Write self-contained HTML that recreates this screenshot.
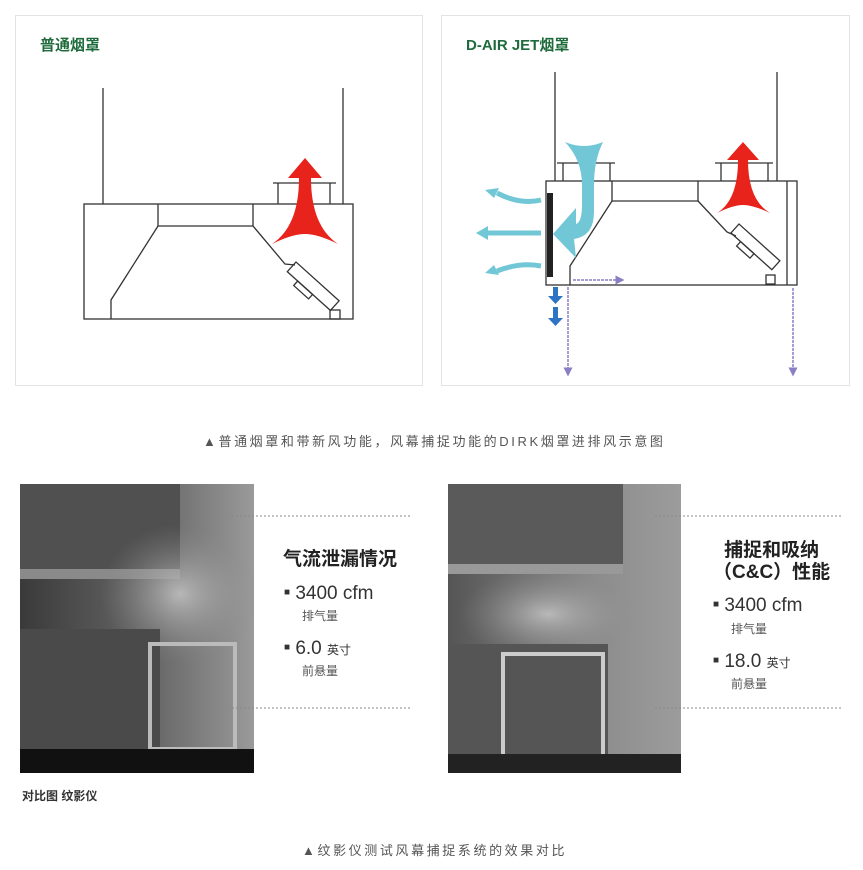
<!DOCTYPE html>
<html><head><meta charset="utf-8"><style>
body{margin:0;background:#fff;width:863px;height:870px;position:relative;overflow:hidden;font-family:"Liberation Sans","Noto Sans CJK SC",sans-serif}
.a{position:absolute}
.panel{position:absolute;border:1px solid #e3e3e3;background:#fff}
.t{color:#1f6b3c;font-weight:bold;font-size:15px}
.cap{color:#555;font-size:13px;letter-spacing:2.6px}
</style></head><body>
<div class="panel" style="left:15px;top:15px;width:406px;height:369px"></div>
<div class="panel" style="left:441px;top:15px;width:407px;height:369px"></div>
<div class="a t" style="left:40px;top:34px">普通烟罩</div>
<div class="a t" style="left:466px;top:34px">D-AIR JET烟罩</div>
<svg class="a" style="left:0;top:0" width="863" height="400">
<defs>
<marker id="pa" markerWidth="6" markerHeight="6" refX="3" refY="3" orient="auto"><path d="M0,0L6,3L0,6z" fill="#8a7fc4"/></marker>
</defs>
<g fill="none" stroke="#333" stroke-width="1.3">
<line x1="103" y1="88" x2="103" y2="204"/><line x1="343" y1="88" x2="343" y2="204"/>
<rect x="84" y="204" width="269" height="115"/>
<polyline points="158,204 158,226 253,226 253,204"/>
<polyline points="158,226 111,300 111,319"/>
<polyline points="253,226 285,264 295,265"/>
<polyline points="273,183 336,183"/><line x1="278" y1="183" x2="278" y2="204"/><line x1="330" y1="183" x2="330" y2="204"/>
<g transform="translate(296,262) rotate(42)"><rect x="0" y="0" width="58" height="13"/><rect x="14" y="13" width="20" height="6"/></g>
<rect x="330" y="310" width="10" height="9"/>
<line x1="555" y1="72" x2="555" y2="181"/><line x1="777" y1="72" x2="777" y2="181"/>
<rect x="546" y="181" width="251" height="104"/>
<line x1="787" y1="181" x2="787" y2="285"/>
<polyline points="612,181 612,201 698,201 698,181"/>
<polyline points="612,201 570,266 570,285"/>
<polyline points="698,201 727,232 736,236"/>
<line x1="557" y1="163" x2="615" y2="163"/><line x1="563" y1="163" x2="563" y2="181"/><line x1="610" y1="163" x2="610" y2="181"/>
<line x1="715" y1="163" x2="773" y2="163"/><line x1="721" y1="163" x2="721" y2="181"/><line x1="768" y1="163" x2="768" y2="181"/>
<g transform="translate(739,224) rotate(42)"><rect x="0" y="0" width="55" height="12"/><rect x="13" y="12" width="18" height="6"/></g>
<rect x="766" y="275" width="9" height="9"/>
</g>
<rect x="547" y="193" width="6" height="84" fill="#222"/>
<path d="M305,158 L322,178 L311,178 Q311,226 338,244 Q318,234 305,234 Q292,234 272,244 Q299,226 299,178 L288,178Z" fill="#e8231b"/>
<path d="M743,142 L759,160 L748,160 Q748,200 770,213 Q753,205 743,205 Q733,205 717,213 Q738,200 738,160 L727,160Z" fill="#e8231b"/>
<path d="M565,142 Q584,150 603,142 Q594,160 594,185 L594,212 Q594,236 574,239 L576,258 L553,234 L576,208 L576,224 Q582,222 582,205 L582,185 Q582,160 565,142Z" fill="#72c7d6"/>
<g fill="none" stroke="#72c7d6" stroke-width="5">
<path d="M541,200 Q520,205 497,193"/><path d="M541,233 L485,233"/><path d="M541,266 Q520,262 497,271"/>
</g>
<g fill="#72c7d6"><path d="M485,190l14,-2l-5,10z"/><path d="M476,233l12,-7v14z"/><path d="M485,273l14,2l-5,-10z"/></g>
<g fill="#2d74c4"><rect x="553" y="287" width="5" height="10"/><path d="M548,296h15l-7.5,8z"/><rect x="553" y="307" width="5" height="12"/><path d="M548,318h15l-7.5,8z"/></g>
<g fill="none" stroke="#8a7fc4" stroke-width="1.5">
<path d="M568,287 V372" stroke-dasharray="3,1" marker-end="url(#pa)"/>
<path d="M793,288 V372" stroke-dasharray="3,1" marker-end="url(#pa)"/>
<path d="M573,280 H620" stroke-dasharray="3,1" marker-end="url(#pa)"/>
</g>
</svg>
<div class="a cap" style="left:203px;top:431px">▲普通烟罩和带新风功能，风幕捕捉功能的DIRK烟罩进排风示意图</div>
<svg class="a" style="left:20px;top:484px" width="234" height="289">
<defs><linearGradient id="g1" x1="0" y1="0" x2="1" y2="0"><stop offset="0" stop-color="#3a3a3a"/><stop offset=".6" stop-color="#6a6a6a"/><stop offset="1" stop-color="#9a9a9a"/></linearGradient>
<radialGradient id="sm" cx=".5" cy=".5" r=".5"><stop offset="0" stop-color="#c8c8c8" stop-opacity=".8"/><stop offset="1" stop-color="#888" stop-opacity="0"/></radialGradient></defs>
<rect width="234" height="289" fill="url(#g1)"/>
<rect x="0" y="0" width="160" height="85" fill="#505050"/><rect x="0" y="85" width="160" height="10" fill="#8a8a8a"/>
<ellipse cx="160" cy="110" rx="80" ry="70" fill="url(#sm)"/>
<rect x="0" y="145" width="140" height="140" fill="#4a4a4a"/>
<rect x="130" y="160" width="85" height="105" fill="none" stroke="#bbb" stroke-width="4"/>
<rect x="0" y="265" width="234" height="24" fill="#111"/>
</svg>
<svg class="a" style="left:448px;top:484px" width="233" height="289">
<defs><linearGradient id="g2" x1="0" y1="0" x2="1" y2="0"><stop offset="0" stop-color="#555"/><stop offset=".6" stop-color="#8a8a8a"/><stop offset="1" stop-color="#9c9c9c"/></linearGradient></defs>
<rect width="233" height="289" fill="url(#g2)"/>
<rect x="0" y="0" width="175" height="80" fill="#5a5a5a"/><rect x="0" y="80" width="175" height="10" fill="#999"/>
<ellipse cx="100" cy="130" rx="90" ry="45" fill="url(#sm)"/>
<rect x="0" y="160" width="160" height="110" fill="#555"/>
<rect x="55" y="170" width="100" height="115" fill="none" stroke="#ccc" stroke-width="4"/>
<rect x="0" y="270" width="233" height="19" fill="#222"/>
</svg>
<svg class="a" style="left:0;top:0" width="863" height="870"><g stroke="#888" stroke-dasharray="2,2"><line x1="228" y1="516" x2="410" y2="516"/><line x1="228" y1="708" x2="410" y2="708"/><line x1="655" y1="516" x2="843" y2="516"/><line x1="655" y1="708" x2="843" y2="708"/></g></svg>
<div class="a" style="left:283px;top:544px;font-size:19px;font-weight:bold;color:#222">气流泄漏情况</div>
<div class="a" style="left:284px;top:583px;font-size:19px;color:#333"><span style="font-size:10px;vertical-align:4px">■</span> 3400 cfm</div>
<div class="a" style="left:302px;top:607px;font-size:12px;color:#555">排气量</div>
<div class="a" style="left:284px;top:638px;font-size:19px;color:#333"><span style="font-size:10px;vertical-align:4px">■</span> 6.0 <span style="font-size:12px">英寸</span></div>
<div class="a" style="left:302px;top:662px;font-size:12px;color:#555">前悬量</div>
<div class="a" style="left:713px;top:540px;font-size:19px;font-weight:bold;color:#222;text-align:center;line-height:22px">捕捉和吸纳<br>（C&amp;C）性能</div>
<div class="a" style="left:713px;top:595px;font-size:19px;color:#333"><span style="font-size:10px;vertical-align:4px">■</span> 3400 cfm</div>
<div class="a" style="left:731px;top:620px;font-size:12px;color:#555">排气量</div>
<div class="a" style="left:713px;top:651px;font-size:19px;color:#333"><span style="font-size:10px;vertical-align:4px">■</span> 18.0 <span style="font-size:12px">英寸</span></div>
<div class="a" style="left:731px;top:675px;font-size:12px;color:#555">前悬量</div>
<div class="a" style="left:22px;top:787px;font-size:12px;font-weight:bold;color:#333">对比图 纹影仪</div>
<div class="a cap" style="left:302px;top:840px">▲纹影仪测试风幕捕捉系统的效果对比</div>
</body></html>
